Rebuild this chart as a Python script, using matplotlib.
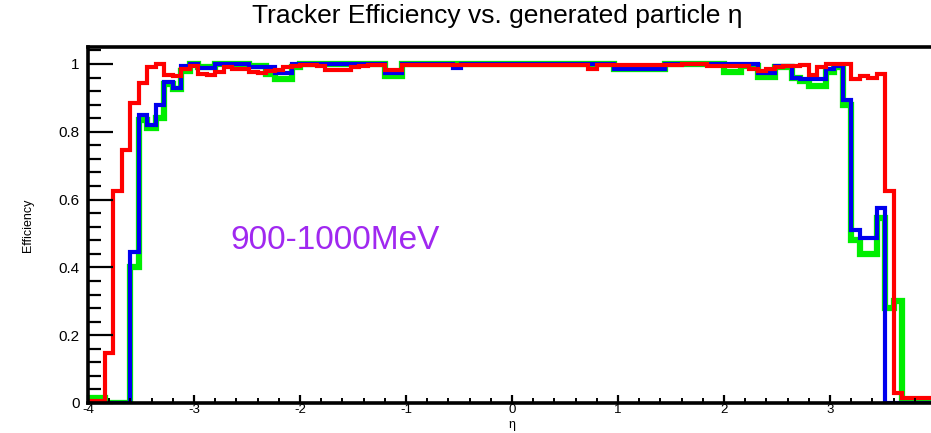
import numpy as np
import matplotlib.pyplot as plt
from matplotlib.ticker import MultipleLocator

plt.rcParams['font.family'] = ['Liberation Sans', 'DejaVu Sans']
plt.rcParams['axes.unicode_minus'] = False

# 100 bins of eta from -4 to 4
edges = np.linspace(-4, 4, 101)

eff_red = [0.005, 0.005, 0.147, 0.625, 0.745, 0.885, 0.945, 0.99, 1.0, 0.968,
           0.965, 0.985, 0.995, 0.97, 0.968, 0.975, 0.99, 0.985, 0.985, 0.975,
           0.972, 0.98, 0.983, 0.99, 0.995, 0.998, 0.998, 0.993, 0.982, 0.982,
           0.982, 0.99, 0.995, 0.997, 0.997, 0.983, 0.983, 0.997, 0.997, 0.997,
           0.997, 0.997, 0.997, 0.997, 0.997, 0.997, 0.997, 0.997, 0.997, 0.997,
           0.997, 0.997, 0.997, 0.997, 0.997, 0.997, 0.997, 0.997, 0.997, 0.985,
           0.997, 0.997, 0.997, 0.997, 0.997, 0.997, 0.997, 0.997, 0.997, 0.997,
           1.0, 1.0, 1.0, 0.995, 0.995, 0.995, 0.995, 0.995, 0.985, 0.98,
           0.985, 0.99, 0.995, 0.995, 0.997, 0.968, 0.992, 1.0, 1.0, 1.0,
           0.955, 0.965, 0.96, 0.97, 0.625, 0.03, 0.015, 0.015, 0.015, 0.015]

eff_blue = [0.0, 0.0, 0.0, 0.0, 0.0, 0.446, 0.85, 0.82, 0.88, 0.948,
            0.93, 0.995, 1.0, 0.988, 0.988, 1.0, 1.0, 1.0, 1.0, 0.99,
            0.99, 0.99, 0.972, 0.972, 1.0, 1.0, 1.0, 1.0, 1.0, 1.0,
            1.0, 1.0, 1.0, 1.0, 1.0, 0.972, 0.972, 1.0, 1.0, 1.0,
            1.0, 1.0, 1.0, 0.987, 1.0, 1.0, 1.0, 1.0, 1.0, 1.0,
            1.0, 1.0, 1.0, 1.0, 1.0, 1.0, 1.0, 1.0, 1.0, 1.0,
            1.0, 1.0, 0.985, 0.985, 0.985, 0.985, 0.985, 0.985, 1.0, 1.0,
            1.0, 1.0, 1.0, 1.0, 1.0, 1.0, 1.0, 1.0, 1.0, 0.972,
            0.972, 0.995, 0.995, 0.96, 0.955, 0.955, 0.955, 0.985, 0.995, 0.894,
            0.51, 0.486, 0.486, 0.574, 0.0, 0.0, 0.0, 0.0, 0.0, 0.0]

eff_green = [0.015, 0.015, 0.0, 0.0, 0.0, 0.40, 0.835, 0.81, 0.84, 0.94,
             0.925, 0.98, 1.0, 0.99, 0.99, 1.0, 1.0, 1.0, 1.0, 0.995,
             0.995, 0.97, 0.955, 0.955, 0.99, 1.0, 1.0, 1.0, 1.0, 1.0,
             1.0, 1.0, 1.0, 1.0, 1.0, 0.965, 0.965, 1.0, 1.0, 1.0,
             1.0, 1.0, 1.0, 1.0, 1.0, 1.0, 1.0, 1.0, 1.0, 1.0,
             1.0, 1.0, 1.0, 1.0, 1.0, 1.0, 1.0, 1.0, 1.0, 1.0,
             1.0, 1.0, 0.985, 0.985, 0.985, 0.985, 0.985, 0.985, 1.0, 1.0,
             1.0, 1.0, 1.0, 1.0, 1.0, 0.977, 0.977, 0.995, 0.995, 0.962,
             0.962, 0.99, 0.99, 0.96, 0.95, 0.935, 0.935, 0.975, 0.99, 0.88,
             0.48, 0.44, 0.44, 0.545, 0.28, 0.30, 0.01, 0.01, 0.01, 0.01]

x_ticks = [-4, -3, -2, -1, 0, 1, 2, 3]
y_ticks = [0, 0.2, 0.4, 0.6, 0.8, 1.0]
y_ticklabels = ['0', '0.2', '0.4', '0.6', '0.8', '1']

fig = plt.figure(figsize=(9.31, 4.33), dpi=100)
ax = fig.add_axes([88 / 931, 30 / 433, 848 / 931, 356 / 433])

ax.stairs(eff_green, edges, color='#00ee00', linewidth=4.5)
ax.stairs(eff_blue, edges, color='#0000ee', linewidth=3.0)
ax.stairs(eff_red, edges, color='#ff0000', linewidth=3.0)

ax.set_xlim(-4, 4)
ax.set_ylim(0, 1.05)

for s in ['left', 'bottom', 'top']:
    ax.spines[s].set_linewidth(2.6)
ax.spines['right'].set_visible(False)

ax.set_xticks(x_ticks)
ax.xaxis.set_minor_locator(MultipleLocator(0.2))
ax.set_yticks(y_ticks)
ax.set_yticklabels(y_ticklabels)
ax.yaxis.set_minor_locator(MultipleLocator(0.04))
ax.tick_params(axis='y', which='major', direction='in', length=18, width=1.6, labelsize=11, pad=6)
ax.tick_params(axis='y', which='minor', direction='in', length=9, width=1.6)
ax.tick_params(axis='x', which='major', direction='in', length=6, width=1.6, labelsize=9.5, pad=1)
ax.tick_params(axis='x', which='minor', direction='in', length=3.5, width=1.4)

ax.set_xlabel('η', fontsize=9, va='top')
ax.xaxis.set_label_coords(0.5, -0.044)
ax.set_ylabel('Efficiency', fontsize=9, labelpad=18)

ax.text(-2.66, 0.455, '900-1000MeV', color='#a028f0', fontsize=24)
fig.text(497 / 931, 1 - 16 / 433, 'Tracker Efficiency vs. generated particle η',
         ha='center', va='center', fontsize=19)

fig.savefig('out.png', dpi=100)
